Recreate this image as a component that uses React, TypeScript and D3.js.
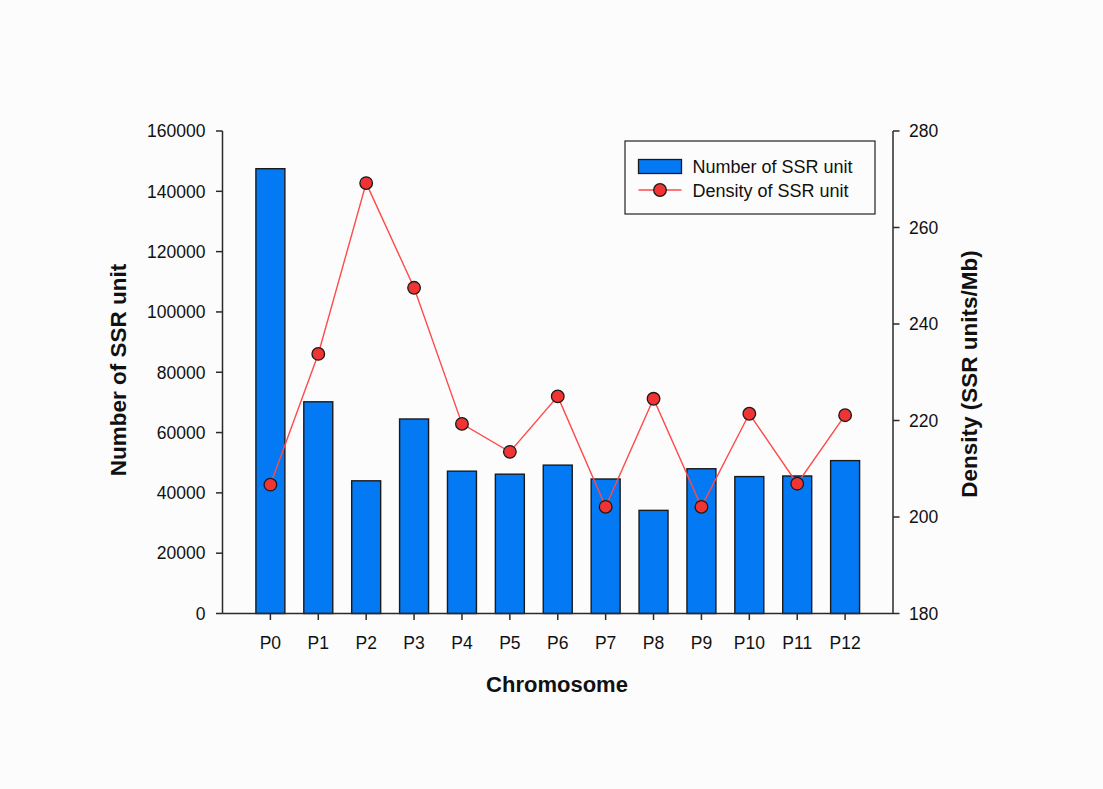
import React from "react";
import * as d3 from "d3";

// Chromosome categories
const chromosomes = ["P0", "P1", "P2", "P3", "P4", "P5", "P6", "P7", "P8", "P9", "P10", "P11", "P12"];
// Number of SSR units per chromosome (bars, left axis)
const ssrCounts = [147500, 70200, 44000, 64500, 47200, 46200, 49200, 44600, 34200, 48000, 45400, 45600, 50700];
// SSR density per chromosome, units/Mb (line, right axis)
const ssrDensity = [206.7, 233.8, 269.2, 247.5, 219.3, 213.5, 225.0, 202.1, 224.5, 202.1, 221.4, 206.9, 221.1];
// Axis ticks
const leftTicks = [0, 20000, 40000, 60000, 80000, 100000, 120000, 140000, 160000];
const rightTicks = [180, 200, 220, 240, 260, 280];

const W = 1103;
const H = 789;
const plot = { left: 222.5, right: 893, top: 131, bottom: 613.5 };
const FONT = "'Liberation Sans', Arial, sans-serif";
const BAR_FILL = "#0479f4";
const LINE_COLOR = "#ff4a4a";
const DOT_FILL = "#f03434";
const AXIS = "#2a2a2a";

export default function App() {
  const x = d3.scaleLinear().domain([-1, chromosomes.length]).range([plot.left, plot.right]);
  const yL = d3.scaleLinear().domain([0, 160000]).range([plot.bottom, plot.top]);
  const yR = d3.scaleLinear().domain([180, 280]).range([plot.bottom, plot.top]);
  const step = x(1) - x(0);
  const barW = step * 0.605;

  const linePath = d3
    .line<number>()
    .x((_, i) => x(i))
    .y((d) => yR(d))(ssrDensity) as string;

  return (
    <svg
      width={W}
      height={H}
      style={{ position: "absolute", left: 0, top: 0, background: "#fcfcfc" }}
      fontFamily={FONT}
    >
      <rect x={0} y={0} width={W} height={H} fill="#fcfcfc" />

      {/* bars */}
      {ssrCounts.map((v, i) => (
        <rect
          key={"b" + i}
          x={x(i) - barW / 2}
          y={yL(v)}
          width={barW}
          height={yL(0) - yL(v)}
          fill={BAR_FILL}
          stroke="#1a1a1a"
          strokeWidth={1.4}
        />
      ))}

      {/* density line */}
      <path d={linePath} fill="none" stroke={LINE_COLOR} strokeWidth={1.4} />
      {ssrDensity.map((v, i) => (
        <circle key={"c" + i} cx={x(i)} cy={yR(v)} r={6.3} fill={DOT_FILL} stroke="#1a1a1a" strokeWidth={1.3} />
      ))}

      {/* left axis */}
      <line x1={plot.left} x2={plot.left} y1={plot.top} y2={plot.bottom} stroke={AXIS} strokeWidth={1.5} />
      {leftTicks.map((t) => (
        <g key={"lt" + t}>
          <line x1={plot.left - 6.5} x2={plot.left} y1={yL(t)} y2={yL(t)} stroke={AXIS} strokeWidth={1.5} />
          <text x={plot.left - 17} y={yL(t)} dy="0.36em" textAnchor="end" fontSize={17.5} fill="#111">
            {t}
          </text>
        </g>
      ))}

      {/* right axis */}
      <line x1={plot.right} x2={plot.right} y1={plot.top} y2={plot.bottom} stroke={AXIS} strokeWidth={1.5} />
      {rightTicks.map((t) => (
        <g key={"rt" + t}>
          <line x1={plot.right} x2={plot.right + 6.5} y1={yR(t)} y2={yR(t)} stroke={AXIS} strokeWidth={1.5} />
          <text x={plot.right + 16} y={yR(t)} dy="0.36em" textAnchor="start" fontSize={17.5} fill="#111">
            {t}
          </text>
        </g>
      ))}

      {/* bottom axis */}
      <line x1={plot.left} x2={plot.right} y1={plot.bottom} y2={plot.bottom} stroke={AXIS} strokeWidth={1.5} />
      {chromosomes.map((c, i) => (
        <g key={"xt" + c}>
          <line x1={x(i)} x2={x(i)} y1={plot.bottom} y2={plot.bottom + 6.5} stroke={AXIS} strokeWidth={1.5} />
          <text x={x(i)} y={649} textAnchor="middle" fontSize={17.5} fill="#111">
            {c}
          </text>
        </g>
      ))}

      {/* axis titles */}
      <text x={557} y={692} textAnchor="middle" fontSize={22} fontWeight="bold" fill="#111">
        Chromosome
      </text>
      <text
        transform={`translate(126,370) rotate(-90)`}
        textAnchor="middle"
        fontSize={22.5}
        fontWeight="bold"
        fill="#111"
      >
        Number of SSR unit
      </text>
      <text
        transform={`translate(977,374) rotate(-90)`}
        textAnchor="middle"
        fontSize={22.5}
        fontWeight="bold"
        fill="#111"
      >
        Density (SSR units/Mb)
      </text>

      {/* legend */}
      <g>
        <rect x={625} y={141} width={250} height={73} fill="#fcfcfc" stroke="#222" strokeWidth={1.2} />
        <rect x={638.5} y={159.5} width={43} height={14} fill={BAR_FILL} stroke="#1a1a1a" strokeWidth={1.3} />
        <text x={692.5} y={172.5} fontSize={18} fill="#111">
          Number of SSR unit
        </text>
        <line x1={638.5} x2={681.5} y1={190} y2={190} stroke={LINE_COLOR} strokeWidth={1.4} />
        <circle cx={660} cy={190} r={6.3} fill={DOT_FILL} stroke="#1a1a1a" strokeWidth={1.3} />
        <text x={692.5} y={196.5} fontSize={18} fill="#111">
          Density of SSR unit
        </text>
      </g>
    </svg>
  );
}
